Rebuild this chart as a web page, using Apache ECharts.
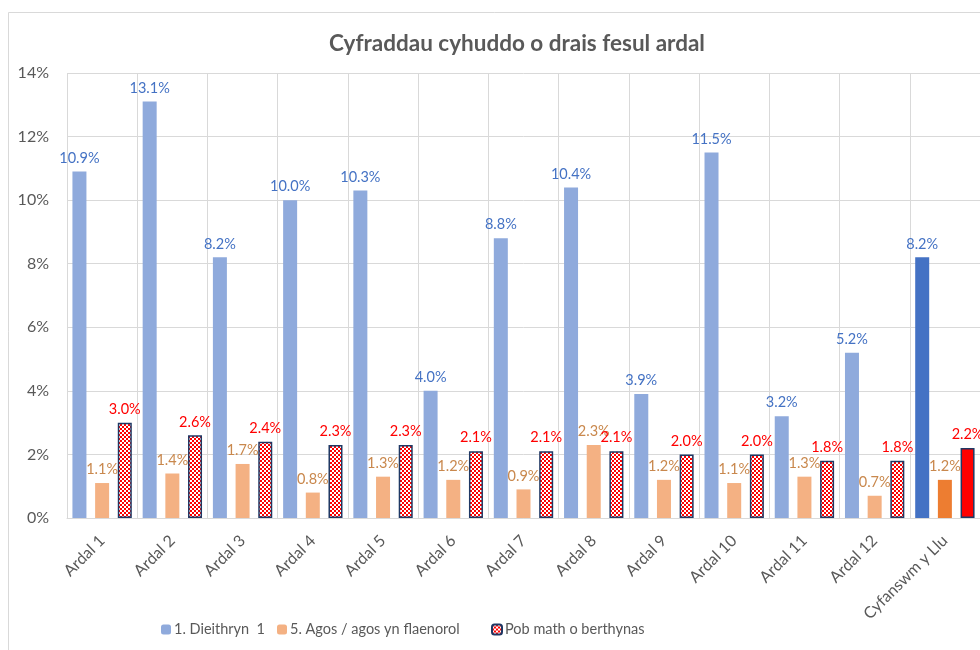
<!DOCTYPE html>
<html>
<head>
<meta charset="utf-8">
<script src="https://cdn.jsdelivr.net/npm/echarts@6/dist/echarts.min.js"></script>
<style>
  html, body { margin: 0; padding: 0; background: #fff; }
  #main { width: 980px; height: 650px; }
</style>
</head>
<body>
<div id="main"></div>
<script>
// categories
const areas = ['Ardal 1', 'Ardal 2', 'Ardal 3', 'Ardal 4', 'Ardal 5', 'Ardal 6', 'Ardal 7',
  'Ardal 8', 'Ardal 9', 'Ardal 10', 'Ardal 11', 'Ardal 12', 'Cyfanswm y Llu'];

// series values (%)
const strangerRates = [10.9, 13.1, 8.2, 10.0, 10.3, 4.0, 8.8, 10.4, 3.9, 11.5, 3.2, 5.2, 8.2];
const closeRates = [1.1, 1.4, 1.7, 0.8, 1.3, 1.2, 0.9, 2.3, 1.2, 1.1, 1.3, 0.7, 1.2];
const allRates = [3.0, 2.6, 2.4, 2.3, 2.3, 2.1, 2.1, 2.1, 2.0, 2.0, 1.8, 1.8, 2.2];

// y axis ticks
const yMin = 0;
const yMax = 14;
const yStep = 2;

const seriesNames = ['1. Dieithryn  1', '5. Agos / agos yn flaenorol', 'Pob math o berthynas'];

const FONT = 'Lato, "Open Sans", sans-serif';
const lastIdx = areas.length - 1;

// checker pattern for "all relationships"
function checkerPattern(color) {
  const c = document.createElement('canvas');
  c.width = 4;
  c.height = 4;
  const ctx = c.getContext('2d');
  ctx.fillStyle = '#ffffff';
  ctx.fillRect(0, 0, 4, 4);
  ctx.fillStyle = color;
  ctx.fillRect(0, 0, 2, 2);
  ctx.fillRect(2, 2, 2, 2);
  return { image: c, repeat: 'repeat' };
}

// the force total gets solid, darker colours
function withTotalColour(values, totalColour) {
  return values.map((v, i) => {
    if (i === lastIdx) {
      return { value: v, itemStyle: { color: totalColour } };
    }
    return v;
  });
}

function pct(p) {
  return p.value.toFixed(1) + '%';
}

const chart = echarts.init(document.getElementById('main'), null, { renderer: 'canvas' });

const option = {
  animation: false,
  backgroundColor: '#ffffff',
  title: {
    text: 'Cyfraddau cyhuddo o drais fesul ardal',
    left: 512,
    textAlign: 'center',
    top: 27,
    textStyle: { fontFamily: FONT, fontSize: 22.5, fontWeight: 'bold', color: '#595959' }
  },
  graphic: [{
    type: 'rect',
    shape: { x: 8.5, y: 12.5, width: 990, height: 660 },
    style: { fill: null, stroke: '#d9d9d9', lineWidth: 1 },
    silent: true
  }],
  legend: [
    { data: [seriesNames[0]], left: 156, top: 617 },
    { data: [seriesNames[1]], left: 272, top: 617 },
    { data: [seriesNames[2]], left: 486, top: 617 }
  ].map(l => Object.assign(l, {
    itemWidth: 10,
    itemHeight: 10,
    itemGap: 0,
    textStyle: { fontFamily: FONT, fontSize: 14.5, color: '#595959', padding: [0, 0, 0, -2] }
  })),
  grid: { left: 67, right: 0, top: 73, bottom: 132 },
  xAxis: {
    type: 'category',
    data: areas,
    axisTick: { show: false },
    axisLine: { lineStyle: { color: '#d9d9d9' } },
    splitLine: { show: true, lineStyle: { color: '#d9d9d9' } },
    axisLabel: {
      rotate: 45,
      interval: 0,
      margin: 20,
      fontFamily: FONT,
      fontSize: 16,
      color: '#595959'
    }
  },
  yAxis: {
    type: 'value',
    min: yMin,
    max: yMax,
    interval: yStep,
    axisLine: { show: false },
    axisTick: { show: false },
    splitLine: { lineStyle: { color: '#d9d9d9' } },
    axisLabel: {
      formatter: '{value}%',
      margin: 18,
      fontFamily: FONT,
      fontSize: 16,
      color: '#595959'
    }
  },
  series: [
    {
      name: seriesNames[0],
      type: 'bar',
      barWidth: 14,
      barGap: '62%',
      data: withTotalColour(strangerRates, '#4472c4'),
      itemStyle: { color: '#8faadc' },
      label: {
        show: true, position: 'top', distance: 6, formatter: pct,
        fontFamily: FONT, fontSize: 14.5, color: '#4472c4'
      }
    },
    {
      name: seriesNames[1],
      type: 'bar',
      barWidth: 14,
      data: withTotalColour(closeRates, '#ed7d31'),
      itemStyle: { color: '#f4b183' },
      label: {
        show: true, position: 'top', distance: 6, formatter: pct,
        fontFamily: FONT, fontSize: 14.5, color: '#c9884d'
      }
    },
    {
      name: seriesNames[2],
      type: 'bar',
      barWidth: 14,
      data: withTotalColour(allRates, '#ff0000'),
      itemStyle: { color: checkerPattern('#ff0000'), borderColor: '#1f3864', borderWidth: 1.5 },
      label: {
        show: true, position: 'top', distance: 6, formatter: pct,
        fontFamily: FONT, fontSize: 14.5, color: '#ff0000'
      }
    }
  ]
};

chart.setOption(option);
</script>
</body>
</html>
